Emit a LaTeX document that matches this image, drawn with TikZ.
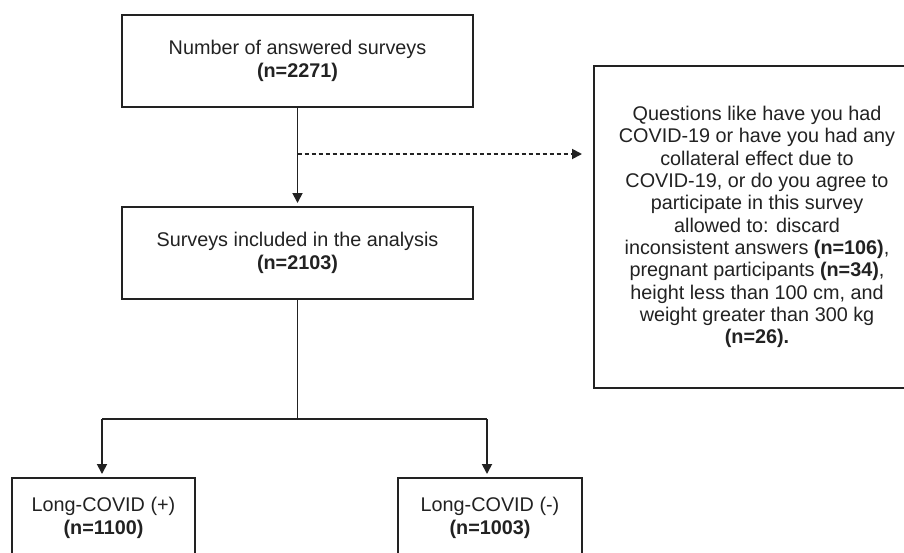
\documentclass[tikz,border=0pt]{standalone}
\usepackage{fontspec}
\setmainfont{Liberation Sans}
\usetikzlibrary{arrows.meta}
\definecolor{ink}{HTML}{222222}
\begin{document}
\begin{tikzpicture}[x=1pt,y=-1pt,
  box/.style={draw=ink, line width=2pt, inner sep=0pt, align=center,
    text=ink, font=\fontsize{19.8}{22.3}\selectfont},
  link/.style={draw=ink, line width=1.8pt},
  arr/.style={link, -{Triangle[length=10pt,width=10pt]}},
  darr/.style={arr, dash pattern=on 4pt off 3pt}]
\useasboundingbox (0,0) rectangle (904,552);
\clip (0,0) rectangle (904,552);
\fill[white] (0,0) rectangle (904,552);
\node[box, minimum width=351pt, minimum height=92pt] (top) at (297.5,61)
  {Number of answered surveys\\\textbf{(n=2271)}};
\node[box, minimum width=351pt, minimum height=92pt] (mid) at (297.5,253)
  {Surveys included in the analysis\\\textbf{(n=2103)}};
\node[box, minimum width=326pt, minimum height=322pt] (rb) at (757,227)
  {Questions like have you had\\COVID-19 or have you had any\\collateral effect due to\\COVID-19, or do you agree to\\participate in this survey\\allowed to: discard\\inconsistent answers \textbf{(n=106)},\\pregnant participants \textbf{(n=34)},\\height less than 100 cm, and\\weight greater than 300 kg\\\textbf{(n=26).}};
\node[box, minimum width=183pt, minimum height=80pt] (bl) at (103.5,518)
  {Long-COVID (+)\\\textbf{(n=1100)}};
\node[box, minimum width=184pt, minimum height=80pt] (br) at (490,518)
  {Long-COVID (-)\\\textbf{(n=1003)}};
\draw[arr, shorten >=3pt] (top.south) -- (mid.north);
\coordinate (d1) at (297.5,154);
\draw[darr, shorten >=11pt] (d1) -- (d1 -| rb.west);
\coordinate (j) at (297.5,419);
\coordinate (jl) at (102,419);
\coordinate (jr) at (487,419);
\draw[link] (mid.south) -- (j);
\draw[link] (jl) -- (jr);
\draw[arr, shorten >=3pt] (jl) -- (jl |- bl.north);
\draw[arr, shorten >=3pt] (jr) -- (jr |- br.north);
\end{tikzpicture}
\end{document}
